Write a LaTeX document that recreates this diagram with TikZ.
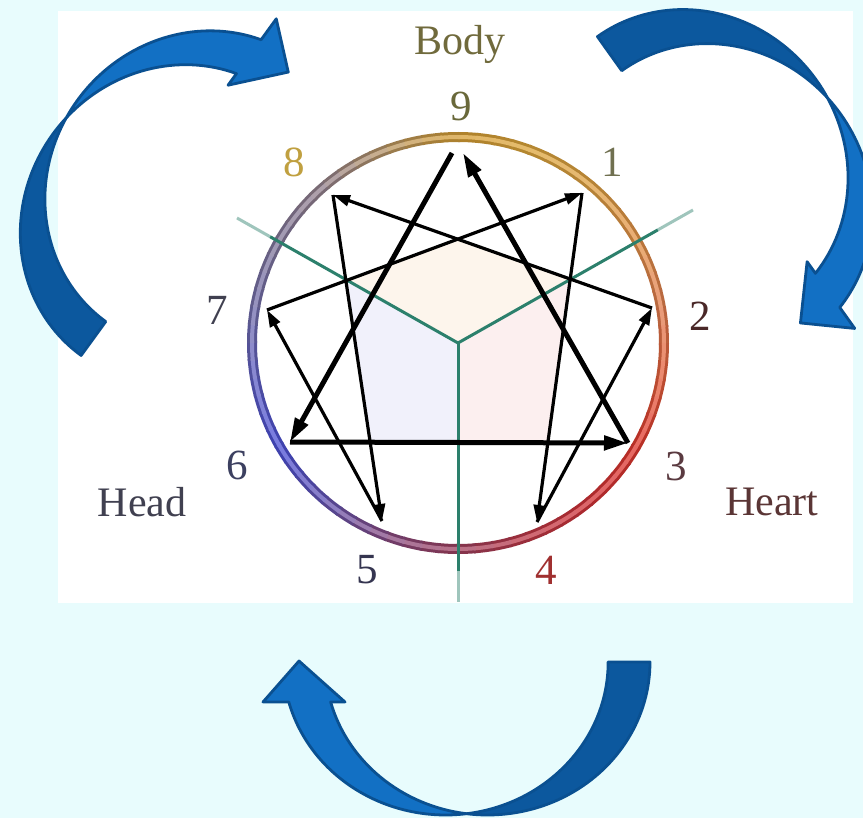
\documentclass[tikz,border=0pt]{standalone}
\usepackage{fontspec}
\setmainfont{Liberation Serif}
\usetikzlibrary{arrows.meta,calc}
\definecolor{bgcyan}{RGB}{232,252,253}
\definecolor{ggreen}{RGB}{44,128,108}
\definecolor{fillpeach}{RGB}{253,245,236}
\definecolor{filllav}{RGB}{241,241,251}
\definecolor{fillpink}{RGB}{252,239,239}
\definecolor{arrowlight}{RGB}{18,112,196}
\definecolor{arrowdark}{RGB}{12,88,158}
\definecolor{arrowedge}{RGB}{10,80,145}
% ring colours
\definecolor{r0}{RGB}{214,158,52}
\definecolor{r1}{RGB}{220,165,60}
\definecolor{r2}{RGB}{222,160,66}
\definecolor{r3}{RGB}{226,145,72}
\definecolor{r4}{RGB}{226,125,78}
\definecolor{r5}{RGB}{228,95,60}
\definecolor{r6}{RGB}{224,55,45}
\definecolor{r7}{RGB}{210,50,55}
\definecolor{r8}{RGB}{190,55,70}
\definecolor{r9}{RGB}{160,65,95}
\definecolor{r10}{RGB}{135,75,130}
\definecolor{r11}{RGB}{100,85,180}
\definecolor{r12}{RGB}{75,80,215}
\definecolor{r13}{RGB}{95,95,195}
\definecolor{r14}{RGB}{115,110,170}
\definecolor{r15}{RGB}{130,120,155}
\definecolor{r16}{RGB}{150,130,140}
\definecolor{r17}{RGB}{185,150,100}
% label colours
\definecolor{cbody}{RGB}{112,106,60}
\definecolor{cnine}{RGB}{105,104,58}
\definecolor{ceight}{RGB}{192,160,64}
\definecolor{cone}{RGB}{112,112,80}
\definecolor{ctwo}{RGB}{74,40,40}
\definecolor{cthree}{RGB}{90,58,64}
\definecolor{cfour}{RGB}{160,48,48}
\definecolor{cfive}{RGB}{53,53,80}
\definecolor{csix}{RGB}{60,64,96}
\definecolor{cseven}{RGB}{64,64,80}
\definecolor{chead}{RGB}{64,64,80}
\definecolor{cheart}{RGB}{90,53,53}
\tikzset{
  lbl/.style={anchor=base, inner sep=0pt, font=\fontsize{43}{48}\selectfont},
  wlbl/.style={anchor=base, inner sep=0pt, font=\fontsize{42}{48}\selectfont},
  triline/.style={line width=5pt, -{Triangle[length=24pt,width=14pt]}},
  hexline/.style={line width=3.2pt, -{Triangle[length=17pt,width=11pt]}},
  gline/.style={ggreen, line width=3pt},
  arrowline/.style={draw=arrowedge, line width=2.8pt, line join=round},
  bluearrow/.pic={
    \draw[arrowline, fill=arrowdark] (183.5,0)
      arc[start angle=0, end angle=97.4, x radius=162.5, y radius=153]
      arc[start angle=82.6, end angle=0, x radius=162.5, y radius=153] -- cycle;
    \draw[arrowline, fill=arrowlight] (0.07,151.7)
      arc[start angle=82.6, end angle=164.84, x radius=162.5, y radius=153]
      -- (-203.5,40) -- (-167.5,-1) -- (-121.5,40) -- (-135.85,40)
      arc[start angle=164.84, end angle=97.4, x radius=162.5, y radius=153] -- cycle;
  }
}
\begin{document}
\begin{tikzpicture}[x=1pt,y=-1pt]
\useasboundingbox (0,0) rectangle (863,818);
\clip (0,0) rectangle (863,818);
\fill[bgcyan] (0,0) rectangle (863,818);
\fill[white] (58,11) rectangle (853,603);

% centre and vertices
\coordinate (c) at (458,343);
\coordinate (p9l) at (452,153);
\coordinate (p9r) at (463,153);
\coordinate (p1) at (582,193);
\coordinate (p2) at (652,308);
\coordinate (p3) at (628,443);
\coordinate (p4) at (537,522);
\coordinate (p5) at (382,521);
\coordinate (p6) at (290,442);
\coordinate (p7) at (267,310);
\coordinate (p8) at (333,195);
\coordinate (gl) at (237,218);
\coordinate (gr) at (693,210);
\coordinate (gb) at (458,602);

% faint centre fills
\begin{scope}
  \clip (458,239) -- (570,278) -- (548,443) -- (370,443) -- (346,281) -- cycle;
  \fill[fillpeach] (c) -- (gl) -- (200,100) -- (720,100) -- (gr) -- cycle;
  \fill[filllav] (c) -- (gl) -- (200,600) -- (458,600) -- cycle;
  \fill[fillpink] (c) -- (gr) -- (720,600) -- (458,600) -- cycle;
\end{scope}

% ring
\foreach \i/\j in {0/1,1/2,2/3,3/4,4/5,5/6,6/7,7/8,8/9,9/10,10/11,11/12,12/13,13/14,14/15,15/16,16/17,17/0}{
  \foreach \k in {0,1,2,3}{
    \pgfmathsetmacro\a{270+20*\i+5*\k}
    \pgfmathtruncatemacro\p{25*\k+12}
    \draw[line width=10pt, color=r\j!\p!r\i!82!black] (c) ++(\a:206) arc[start angle=\a, end angle=\a+5.6, radius=206];
  }
}
\foreach \i/\j in {0/1,1/2,2/3,3/4,4/5,5/6,6/7,7/8,8/9,9/10,10/11,11/12,12/13,13/14,14/15,15/16,16/17,17/0}{
  \foreach \k in {0,1,2,3}{
    \pgfmathsetmacro\a{270+20*\i+5*\k}
    \pgfmathtruncatemacro\p{25*\k+12}
    \draw[line width=4pt, color=r\j!\p!r\i!75!white] (c) ++(\a:206) arc[start angle=\a, end angle=\a+5.6, radius=206];
  }
}

% green dividing lines
\draw[gline] (c) -- ($(c)!0.85!(gl)$);
\draw[gline, opacity=0.45] ($(c)!0.85!(gl)$) -- (gl);
\draw[gline] (c) -- ($(c)!0.85!(gr)$);
\draw[gline, opacity=0.45] ($(c)!0.85!(gr)$) -- (gr);
\draw[gline] (c) -- ($(c)!0.88!(gb)$);
\draw[gline, opacity=0.45] ($(c)!0.88!(gb)$) -- (gb);

% hexad
\draw[hexline] (p1) -- (p4);
\draw[hexline] (p4) -- (p2);
\draw[hexline] (p2) -- (p8);
\draw[hexline] (p8) -- (p5);
\draw[hexline] (p5) -- (p7);
\draw[hexline] (p7) -- (p1);
% triangle
\draw[triline] (p9l) -- (p6);
\draw[triline] (p6) -- (p3);
\draw[triline] (p3) -- (p9r);

% labels
\node[wlbl, text=cbody] (body) at (460,55) {Body};
\node[lbl, text=cnine] (n9) at (461,121) {9};
\node[lbl, text=ceight] (n8) at (294,177) {8};
\node[lbl, text=cone] (n1) at (612,177) {1};
\node[lbl, text=cseven] (n7) at (217,325) {7};
\node[lbl, text=ctwo] (n2) at (700,331) {2};
\node[lbl, text=csix] (n6) at (237,480) {6};
\node[lbl, text=cthree] (n3) at (676,481) {3};
\node[lbl, text=cfive] (n5) at (367,583) {5};
\node[lbl, text=cfour] (n4) at (546,584) {4};
\node[wlbl, text=chead] (head) at (142,516) {Head};
\node[wlbl, text=cheart] (heart) at (772,515) {Heart};

% blue curved arrows
\pic at (466.5,662) {bluearrow};
\pic[rotate=-126] at (189,207) {bluearrow};
\pic[rotate=125.5] at (704,186) {bluearrow};
\end{tikzpicture}
\end{document}
